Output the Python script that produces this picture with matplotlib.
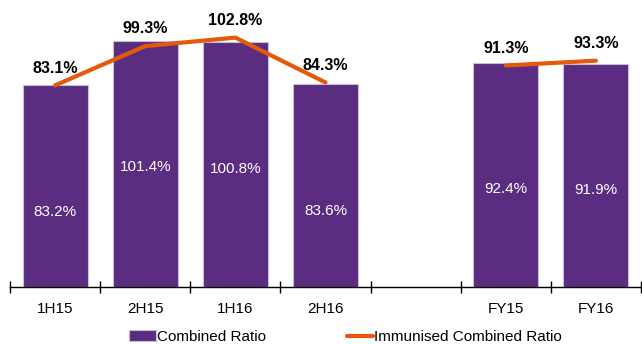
import matplotlib
matplotlib.use("Agg")
import matplotlib.pyplot as plt
import numpy as np

plt.rcParams['font.family'] = ['Liberation Sans', 'DejaVu Sans']

categories = ['1H15', '2H15', '1H16', '2H16', '', 'FY15', 'FY16']
combined = [83.2, 101.4, 100.8, 83.6, None, 92.4, 91.9]
immunised_half = [83.1, 99.3, 102.8, 84.3]
immunised_full = [91.3, 93.3]

purple = '#5A2D81'
orange = '#E35A0A'

fig = plt.figure(figsize=(6.42, 3.44), dpi=100)
ax = fig.add_axes([10 / 642, 57 / 344, 631 / 642, 287 / 344])

x = np.arange(len(categories))
bar_x = [i for i, v in zip(x, combined) if v is not None]
bar_v = [v for v in combined if v is not None]
bars = ax.bar(bar_x, bar_v, width=0.72, color=purple, edgecolor='#C9BEDA',
              linewidth=0.8, label='Combined Ratio', zorder=2)

for xi, v in zip(bar_x, bar_v):
    ax.annotate(f'{v:.1f}%', (xi, v), xytext=(0, -91), textcoords='offset points',
                ha='center', va='center', color='white', fontsize=11)

# immunised ratio: half-year segment and full-year segment
line, = ax.plot(x[:4], immunised_half, color=orange, lw=3, solid_capstyle='round',
                label='Immunised Combined Ratio', zorder=3)
ax.plot(x[5:], immunised_full, color=orange, lw=3, solid_capstyle='round', zorder=3)

for xi, v in list(zip(x[:4], immunised_half)) + list(zip(x[5:], immunised_full)):
    ax.annotate(f'{v:.1f}%', (xi, v), xytext=(0, 7), textcoords='offset points',
                ha='center', va='bottom', fontsize=11.5, fontweight='bold', color='black')

ax.set_xlim(-0.5, len(categories) - 0.5)
ax.set_ylim(0, 118.3)
ax.set_yticks([])
ax.set_xticks(x)
ax.set_xticklabels(categories, fontsize=11)
ax.set_xticks(np.arange(-0.5, len(categories)), minor=True)
ax.tick_params(axis='x', which='major', length=0, pad=11)
ax.tick_params(axis='x', which='minor', length=9, direction='inout', width=1)
for s in ['top', 'right', 'left']:
    ax.spines[s].set_visible(False)
ax.spines['bottom'].set_linewidth(1)

fig.legend([bars, line], ['Combined Ratio', 'Immunised Combined Ratio'],
           loc='center', bbox_to_anchor=(0.538, 0.02), ncol=2, frameon=False,
           fontsize=11, handlelength=1.75, handletextpad=0.05, columnspacing=5.3,
           borderpad=0.1)

fig.savefig('out.png', dpi=100)
